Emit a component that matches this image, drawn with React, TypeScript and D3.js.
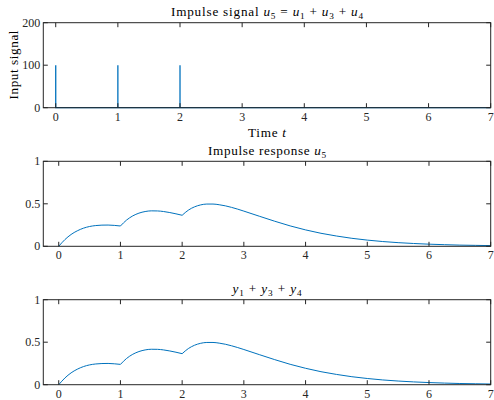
import React from "react";
import * as d3 from "d3";

const xTicks = [0, 1, 2, 3, 4, 5, 6, 7];
const impulseTimes = [0, 1, 2];
const impulseHeight = 100;
const signalYTicks = [0, 100, 200];
const respYTicks = [0, 0.5, 1];

const respT = [
  0, 0.1, 0.2, 0.3, 0.4, 0.5, 0.6, 0.7, 0.8, 0.9, 1.0,
  1.1, 1.2, 1.3, 1.4, 1.5, 1.6, 1.7, 1.8, 1.9, 2.0,
  2.1, 2.2, 2.3, 2.4, 2.5, 2.6, 2.7, 2.8, 2.9, 3.0,
  3.25, 3.5, 3.75, 4.0, 4.25, 4.5, 4.75, 5.0, 5.25, 5.5, 5.75,
  6.0, 6.25, 6.5, 6.75, 7.0,
];
const respY = [
  0, 0.079, 0.139, 0.182, 0.213, 0.233, 0.244, 0.249, 0.25, 0.246, 0.239,
  0.309, 0.358, 0.39, 0.409, 0.417, 0.416, 0.409, 0.397, 0.382, 0.365,
  0.425, 0.464, 0.487, 0.497, 0.497, 0.489, 0.476, 0.458, 0.437, 0.414,
  0.354, 0.295, 0.24, 0.193, 0.153, 0.121, 0.094, 0.073, 0.056, 0.043, 0.033,
  0.025, 0.019, 0.014, 0.011, 0.008,
];
const sumY = respY.slice();

const FONT = "'Liberation Serif', 'Times New Roman', serif";
const BLUE = "#0072BD";
const AX = "#262626";
const FS = 12;
const TFS = 13.2;

type Part = { t: string; it?: boolean; sub?: boolean };

function MathText({ x, y, parts, size = TFS, len }: { x: number; y: number; parts: Part[]; size?: number; len?: number }) {
  let prevSub = false;
  return (
    <text
      x={x}
      y={y}
      textAnchor="middle"
      fontFamily={FONT}
      fontSize={size}
      fill="#000"
      textLength={len}
      lengthAdjust={len ? "spacing" : undefined}
    >
      {parts.map((p, i) => {
        let dy = 0;
        if (p.sub && !prevSub) dy = 3;
        if (!p.sub && prevSub) dy = -3;
        prevSub = !!p.sub;
        return (
          <tspan key={i} dy={dy} fontStyle={p.it ? "italic" : "normal"} fontSize={p.sub ? size * 0.7 : size}>
            {p.t}
          </tspan>
        );
      })}
    </text>
  );
}

function Axes({
  top, height, xDomain, yDomain, yTicks, yFmt,
}: {
  top: number; height: number; xDomain: [number, number]; yDomain: [number, number];
  yTicks: number[]; yFmt: (v: number) => string;
}) {
  const left = 43.3, right = 490.7;
  const x = d3.scaleLinear().domain(xDomain).range([left, right]);
  const y = d3.scaleLinear().domain(yDomain).range([top + height, top]);
  const tl = 4.5;
  return (
    <g>
      <rect x={left} y={top} width={right - left} height={height} fill="none" stroke={AX} strokeWidth={1} />
      {xTicks.map((t) => (
        <g key={"x" + t}>
          <line x1={x(t)} x2={x(t)} y1={top + height} y2={top + height - tl} stroke={AX} />
          <line x1={x(t)} x2={x(t)} y1={top} y2={top + tl} stroke={AX} />
          <text x={x(t)} y={top + height + 13} textAnchor="middle" fontFamily={FONT} fontSize={FS} fill="#262626">
            {t}
          </text>
        </g>
      ))}
      {yTicks.map((t) => (
        <g key={"y" + t}>
          <line x1={left} x2={left + tl} y1={y(t)} y2={y(t)} stroke={AX} />
          <line x1={right} x2={right - tl} y1={y(t)} y2={y(t)} stroke={AX} />
          <text x={left - 3} y={y(t) + 4} textAnchor="end" fontFamily={FONT} fontSize={FS} fill="#262626">
            {yFmt(t)}
          </text>
        </g>
      ))}
    </g>
  );
}

function respPath(xs: number[], ys: number[], x: d3.ScaleLinear<number, number>, y: d3.ScaleLinear<number, number>) {
  const pts = xs.map((t, i) => [t, ys[i]] as [number, number]);
  const cuts = impulseTimes.slice(1);
  const segs: [number, number][][] = [];
  let cur: [number, number][] = [];
  pts.forEach((p) => {
    cur.push(p);
    if (cuts.includes(p[0])) {
      segs.push(cur);
      cur = [p];
    }
  });
  segs.push(cur);
  const line = d3.line<[number, number]>().x((d) => x(d[0])).y((d) => y(d[1])).curve(d3.curveMonotoneX);
  return segs.map((s) => line(s) || "").join("");
}

export default function App() {
  const left = 43.3, right = 490.7;
  // Plot 1
  const top1 = 22.7, h1 = 85;
  const x1 = d3.scaleLinear().domain([-0.2, 7]).range([left, right]);
  const y1 = d3.scaleLinear().domain([0, 200]).range([top1 + h1, top1]);
  const sig: [number, number][] = [];
  impulseTimes.forEach((t) => {
    sig.push([t, 0], [t, impulseHeight], [t, 0]);
  });
  sig.push([7, 0]);
  const sigLine = d3.line<[number, number]>().x((d) => x1(d[0])).y((d) => y1(d[1]));

  // Plot 2
  const top2 = 161.3, h2 = 85;
  const x2 = d3.scaleLinear().domain([-0.25, 7]).range([left, right]);
  const y2 = d3.scaleLinear().domain([0, 1]).range([top2 + h2, top2]);
  // Plot 3
  const top3 = 299.7, h3 = 85;
  const y3 = d3.scaleLinear().domain([0, 1]).range([top3 + h3, top3]);

  const cx = (left + right) / 2;

  return (
    <svg width={494} height={400} style={{ position: "absolute", left: 0, top: 0, background: "#fff" }}>
      <rect width={494} height={400} fill="#fff" />
      {/* Plot 1 */}
      <path d={sigLine(sig) || ""} fill="none" stroke={BLUE} strokeWidth={1.3} />
      <Axes top={top1} height={h1} xDomain={[-0.2, 7]} yDomain={[0, 200]} yTicks={signalYTicks} yFmt={(v) => String(v)} />
      <MathText
        x={cx}
        y={16}
        len={192}
        parts={[
          { t: "Impulse signal " },
          { t: "u", it: true }, { t: "5", sub: true },
          { t: " = " },
          { t: "u", it: true }, { t: "1", sub: true },
          { t: " + " },
          { t: "u", it: true }, { t: "3", sub: true },
          { t: " + " },
          { t: "u", it: true }, { t: "4", sub: true },
        ]}
      />
      <MathText x={cx} y={137} len={38} parts={[{ t: "Time " }, { t: "t", it: true }]} />
      <text
        transform="translate(18,65) rotate(-90)"
        textAnchor="middle"
        fontFamily={FONT}
        fontSize={TFS}
        fill="#000"
        textLength={69}
        lengthAdjust="spacing"
      >
        Input signal
      </text>

      {/* Plot 2 */}
      <path d={respPath(respT, respY, x2, y2)} fill="none" stroke={BLUE} strokeWidth={1} />
      <Axes top={top2} height={h2} xDomain={[-0.25, 7]} yDomain={[0, 1]} yTicks={respYTicks} yFmt={(v) => String(v)} />
      <MathText x={cx} y={155} len={118} parts={[{ t: "Impulse response " }, { t: "u", it: true }, { t: "5", sub: true }]} />

      {/* Plot 3 */}
      <path d={respPath(respT, sumY, x2, y3)} fill="none" stroke={BLUE} strokeWidth={1} />
      <Axes top={top3} height={h3} xDomain={[-0.25, 7]} yDomain={[0, 1]} yTicks={respYTicks} yFmt={(v) => String(v)} />
      <MathText
        x={cx}
        y={293}
        len={69}
        parts={[
          { t: "y", it: true }, { t: "1", sub: true },
          { t: " + " },
          { t: "y", it: true }, { t: "3", sub: true },
          { t: " + " },
          { t: "y", it: true }, { t: "4", sub: true },
        ]}
      />
    </svg>
  );
}
